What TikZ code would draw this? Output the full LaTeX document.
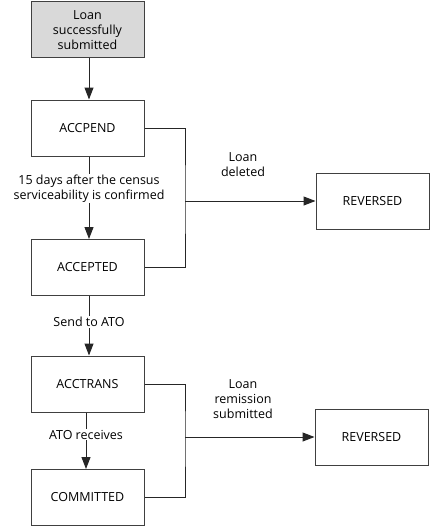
\documentclass[tikz,border=0pt]{standalone}
\usepackage{fontspec}
\setmainfont{Open Sans}
\usetikzlibrary{arrows.meta}
\begin{document}
\begin{tikzpicture}[x=1pt,y=-1pt,
  box/.style={draw=black!75,line width=1pt,minimum width=113pt,minimum height=56pt,inner sep=0pt,align=center,font=\fontsize{12.5}{15}\selectfont},
  lbl/.style={fill=white,inner sep=1pt,align=center,font=\fontsize{12.5}{15}\selectfont},
  arr/.style={line width=1pt,draw=black!85,-{Triangle[length=12pt,width=9pt]}},
  ln/.style={line width=1pt,draw=black!85}]
\useasboundingbox (0,0) rectangle (430,527);
\node[box,fill=black!15] (start) at (87.5,30) {Loan\\successfully\\submitted};
\node[box] (pend) at (87.5,128) {ACCPEND};
\node[box] (acc) at (87.5,267.5) {ACCEPTED};
\node[box] (trans) at (87.5,384) {ACCTRANS};
\node[box] (comm) at (87.5,497.5) {COMMITTED};
\node[box] (rev1) at (372.5,201) {REVERSED};
\node[box] (rev2) at (371.5,437) {REVERSED};
\coordinate (j1) at (185,201);
\coordinate (j2) at (185,437);
\draw[arr] (start.south -| 89,0) -- (pend.north -| 89,0);
\draw[arr] (pend.south -| 89,0) -- node[lbl,pos=0.39] (l1) {15 days after the census\\serviceability is confirmed} (acc.north -| 89,0);
\draw[arr] (acc.south -| 89,0) -- node[lbl,pos=0.44] (l2) {Send to ATO} (trans.north -| 89,0);
\draw[arr] (trans.south -| 86,0) -- node[lbl,pos=0.39] (l3) {ATO receives} (comm.north -| 86,0);
\draw[ln] (pend.east) -| (j1) |- (acc.east);
\draw[arr] (j1) -- (rev1.west);
\draw[ln] (trans.east) -| (j2) |- (comm.east);
\draw[arr] (j2) -- (rev2.west);
\node[lbl,fill=none] (l4) at (243,164.5) {Loan\\deleted};
\node[lbl,fill=none] (l5) at (243,399) {Loan\\remission\\submitted};
\end{tikzpicture}
\end{document}
